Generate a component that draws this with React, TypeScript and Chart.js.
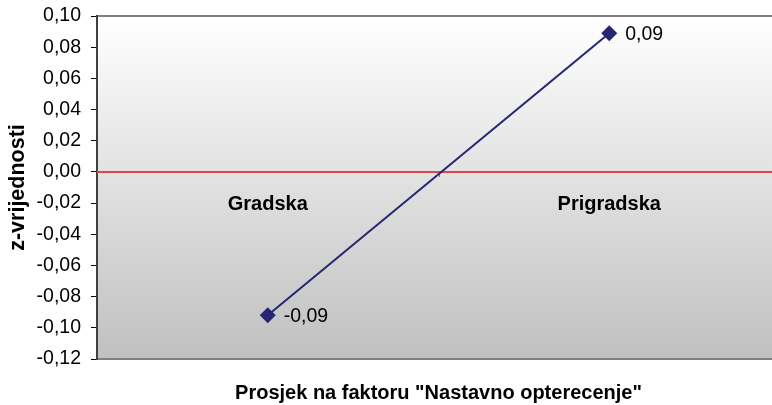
import React, { useEffect, useRef } from "react";
import { Chart, registerables } from "chart.js";

Chart.register(...registerables);

const categories = ["Gradska", "Prigradska"];
const values = [-0.092, 0.089];
const yMin = -0.12;
const yMax = 0.1;
const yStep = 0.02;
const yTitle = "z-vrijednosti";
const xTitle = 'Prosjek na faktoru "Nastavno opterecenje"';

const FONT = "'Liberation Sans', Arial, sans-serif";
const CANVAS_W = 788;

const fmt = (v: number) => {
  const r = Math.abs(v) < 1e-9 ? 0 : v;
  return r.toFixed(2).replace(".", ",");
};

export default function App() {
  const ref = useRef<HTMLCanvasElement>(null);

  useEffect(() => {
    const canvas = ref.current!;
    const bgPlugin = {
      id: "bg",
      beforeDraw(chart: any) {
        const { ctx, chartArea: a } = chart;
        const g = ctx.createLinearGradient(0, a.top, 0, a.bottom);
        g.addColorStop(0, "#ffffff");
        g.addColorStop(1, "#c0c0c0");
        ctx.save();
        ctx.fillStyle = g;
        ctx.fillRect(a.left, a.top, a.right - a.left, a.bottom - a.top);
        ctx.strokeStyle = "#808080";
        ctx.lineWidth = 2;
        ctx.beginPath();
        ctx.moveTo(a.left, a.top);
        ctx.lineTo(a.right, a.top);
        ctx.moveTo(a.left, a.bottom);
        ctx.lineTo(a.right, a.bottom);
        ctx.stroke();
        ctx.restore();
      },
      beforeDatasetsDraw(chart: any) {
        const { ctx, chartArea: a, scales } = chart;
        const y0 = Math.round(scales.y.getPixelForValue(0));
        const xm = Math.round((a.left + a.right) / 2) + 0.5;
        ctx.save();
        ctx.strokeStyle = "#e04848";
        ctx.lineWidth = 2;
        ctx.beginPath();
        ctx.moveTo(a.left, y0);
        ctx.lineTo(a.right, y0);
        ctx.stroke();
        ctx.lineWidth = 1;
        ctx.beginPath();
        ctx.moveTo(xm, y0);
        ctx.lineTo(xm, y0 + 5);
        ctx.stroke();
        ctx.restore();
      },
      afterDatasetsDraw(chart: any) {
        const { ctx, chartArea: a } = chart;
        const meta = chart.getDatasetMeta(0);
        ctx.save();
        ctx.fillStyle = "#000";
        ctx.font = `19.5px ${FONT}`;
        ctx.textBaseline = "middle";
        ctx.textAlign = "left";
        meta.data.forEach((p: any, i: number) => {
          ctx.fillText(fmt(values[i]), p.x + 16, p.y + 1);
        });
        ctx.font = `bold 20px ${FONT}`;
        ctx.textAlign = "center";
        ctx.fillText(xTitle, (a.left + a.right) / 2, 393);
        ctx.restore();
      },
    };

    const chart = new Chart(canvas, {
      type: "line",
      data: {
        labels: categories,
        datasets: [
          {
            data: values,
            borderColor: "#262673",
            backgroundColor: "#262673",
            borderWidth: 2,
            pointStyle: "rectRot",
            pointRadius: 8,
            pointBorderWidth: 0,
            tension: 0,
          },
        ],
      },
      options: {
        animation: false,
        responsive: false,
        layout: { padding: { top: 16, bottom: 46, right: 0, left: 0 } },
        plugins: {
          legend: { display: false },
          tooltip: { enabled: false },
          title: { display: false },
        },
        scales: {
          x: {
            type: "category",
            position: { y: 0 } as any,
            offset: true,
            afterFit(scale: any) {
              scale.paddingLeft = 0;
              scale.paddingRight = 0;
            },
            grid: {
              display: false,
              drawOnChartArea: false,
              tickLength: 5,
            },
            border: { display: false },
            ticks: {
              color: "#000",
              font: { family: FONT, size: 20, weight: "bold" },
              padding: 16,
            },
          },
          y: {
            min: yMin,
            max: yMax,
            afterFit(scale: any) {
              scale.width = 97;
              scale.paddingTop = 0;
              scale.paddingBottom = 0;
            },
            ticks: {
              stepSize: yStep,
              color: "#000",
              font: { family: FONT, size: 19.5 },
              padding: 10,
              callback: (v: any) => fmt(Number(v)),
            },
            grid: {
              drawOnChartArea: false,
              drawTicks: true,
              tickLength: 6,
              color: "#000",
            },
            border: { display: true, color: "#404040", width: 2 },
            title: {
              display: true,
              text: yTitle,
              color: "#000",
              font: { family: FONT, size: 21.5, weight: "bold" },
              padding: { top: 5, bottom: 0 },
            },
          },
        },
      },
      plugins: [bgPlugin],
    } as any);
    return () => chart.destroy();
  }, []);

  return (
    <div
      style={{
        position: "absolute",
        left: 0,
        top: 0,
        width: 772,
        height: 405,
        overflow: "hidden",
        background: "#fff",
      }}
    >
      <div style={{ width: CANVAS_W, height: 405 }}>
        <canvas
          ref={ref}
          width={CANVAS_W}
          height={405}
          style={{ display: "block", width: CANVAS_W, height: 405 }}
        />
      </div>
    </div>
  );
}
